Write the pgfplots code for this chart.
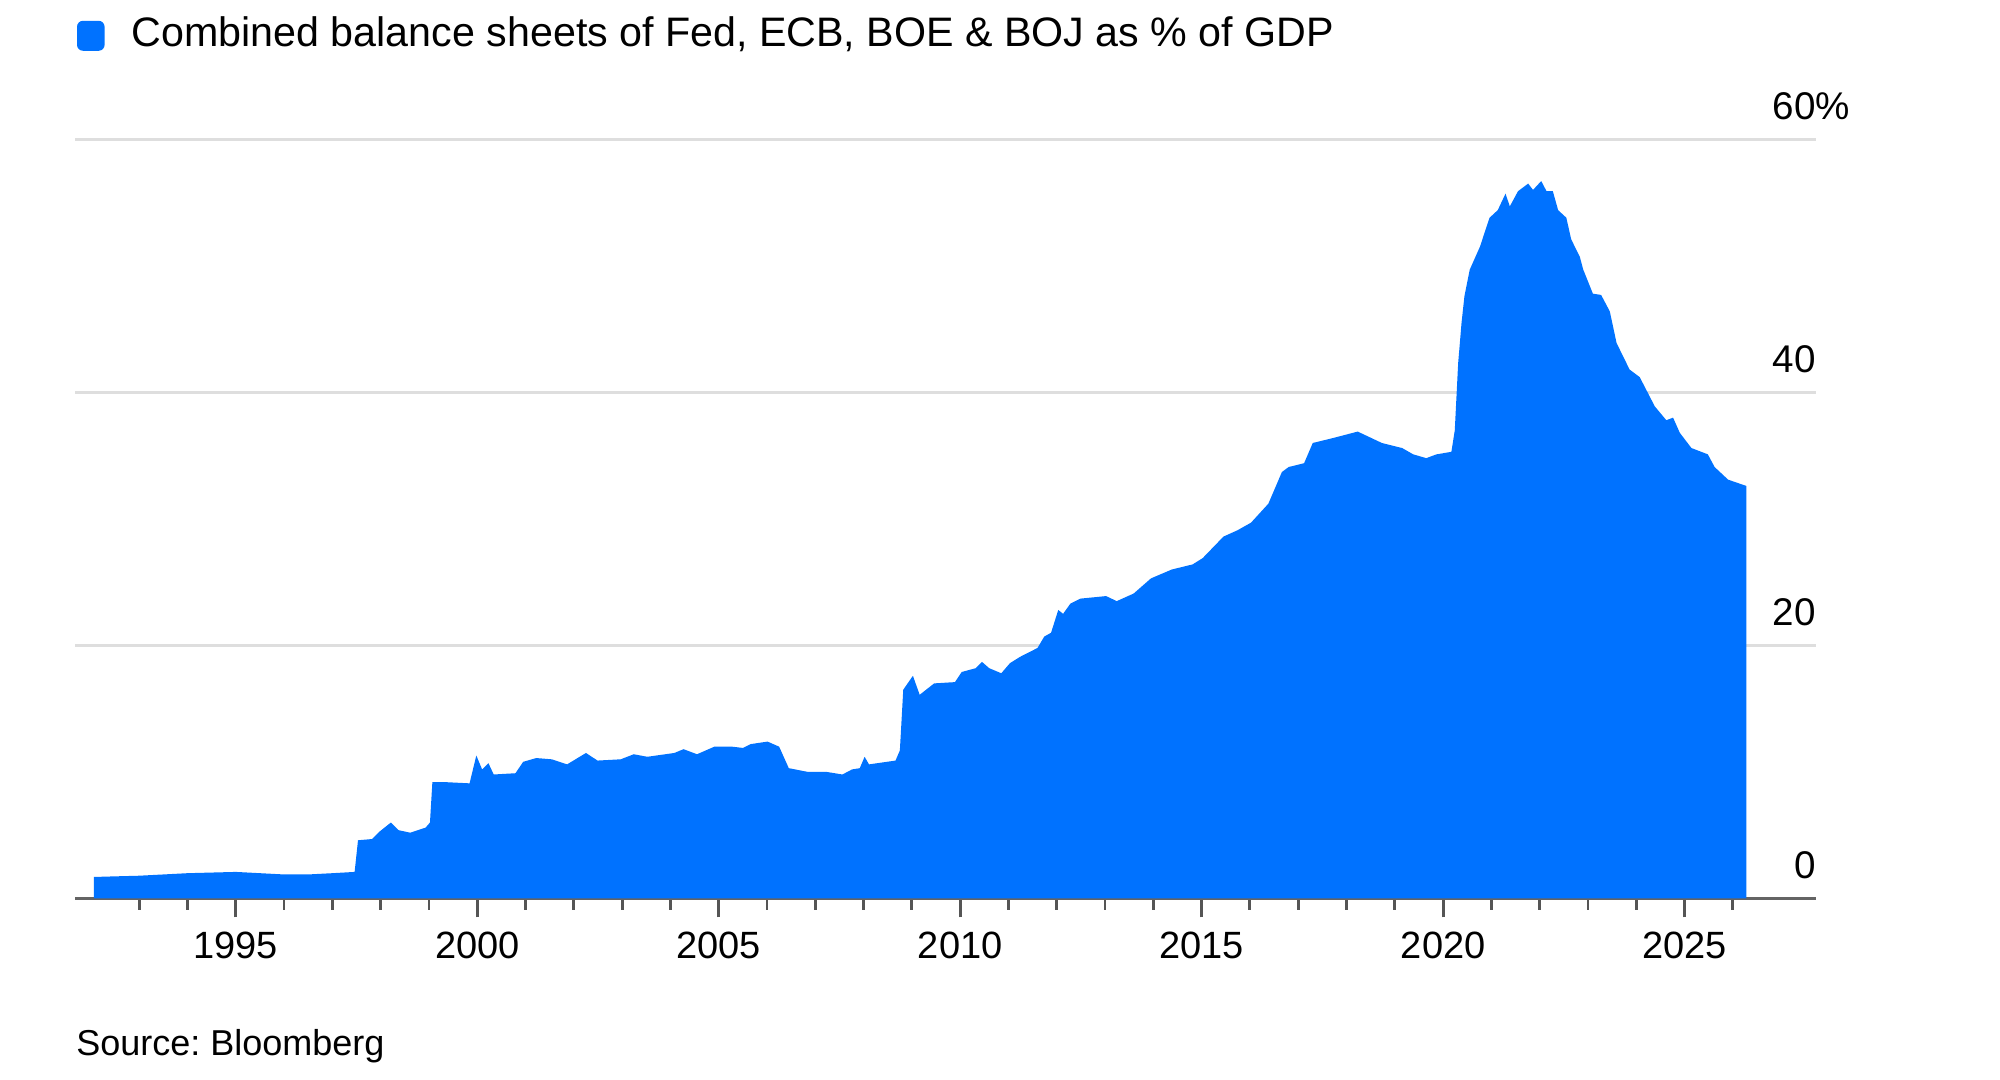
\documentclass[border=0pt]{standalone}
\usepackage{fontspec}
\setmainfont{Liberation Sans}
\usepackage{pgfplots}
\pgfplotsset{compat=1.18}
\usepackage{pgfplotstable}
\definecolor{bblue}{RGB}{0,114,255}
\definecolor{gridgray}{RGB}{222,222,222}
\definecolor{axisgray}{RGB}{100,100,100}
\definecolor{tickgray}{RGB}{85,85,85}
\pgfplotstableread{
year value
1992.06 1.7
1992.5 1.75
1993.0 1.8
1993.5 1.9
1994.0 2.0
1994.5 2.05
1995.0 2.1
1995.5 2.0
1996.0 1.9
1996.5 1.9
1997.0 2.0
1997.46 2.1
1997.53 4.6
1997.82 4.7
1997.98 5.3
1998.21 6.0
1998.37 5.4
1998.61 5.2
1998.93 5.6
1999.02 6.0
1999.07 9.2
1999.32 9.2
1999.84 9.1
1999.98 11.3
2000.10 10.2
2000.23 10.7
2000.34 9.8
2000.79 9.9
2000.95 10.8
2001.22 11.1
2001.54 11.0
2001.86 10.6
2002.25 11.5
2002.49 10.9
2002.97 11.0
2003.24 11.4
2003.52 11.2
2004.08 11.5
2004.27 11.8
2004.55 11.4
2004.91 12.0
2005.27 12.0
2005.50 11.9
2005.66 12.2
2006.01 12.4
2006.25 12.0
2006.45 10.3
2006.85 10.0
2007.24 10.0
2007.56 9.8
2007.76 10.2
2007.92 10.3
2008.02 11.2
2008.11 10.6
2008.66 10.9
2008.75 11.7
2008.82 16.5
2009.02 17.6
2009.16 16.1
2009.46 17.0
2009.89 17.1
2010.03 17.9
2010.32 18.2
2010.45 18.7
2010.60 18.2
2010.85 17.8
2011.03 18.6
2011.24 19.1
2011.60 19.8
2011.74 20.7
2011.88 21.0
2012.03 22.8
2012.13 22.5
2012.28 23.3
2012.49 23.7
2013.02 23.9
2013.24 23.5
2013.59 24.1
2013.95 25.3
2014.38 26.0
2014.81 26.4
2015.02 26.9
2015.45 28.6
2015.74 29.1
2016.02 29.7
2016.38 31.2
2016.66 33.7
2016.80 34.1
2017.12 34.4
2017.30 36.0
2017.73 36.4
2018.23 36.9
2018.73 36.0
2019.15 35.6
2019.38 35.1
2019.65 34.8
2019.86 35.1
2020.17 35.3
2020.24 37.0
2020.31 42.3
2020.38 45.5
2020.44 47.6
2020.55 49.7
2020.76 51.5
2020.96 53.8
2021.13 54.4
2021.29 55.7
2021.38 54.7
2021.55 55.9
2021.76 56.5
2021.86 56.0
2022.03 56.7
2022.14 55.9
2022.27 55.9
2022.38 54.4
2022.55 53.8
2022.65 52.1
2022.83 50.7
2022.90 49.7
2023.10 47.8
2023.27 47.7
2023.45 46.4
2023.59 43.9
2023.86 41.8
2024.07 41.2
2024.38 38.9
2024.62 37.8
2024.76 38.0
2024.90 36.8
2025.14 35.6
2025.48 35.1
2025.62 34.1
2025.90 33.1
2026.28 32.6
}\datatable
\begin{document}
\frenchspacing
\begin{tikzpicture}
\useasboundingbox (0,0) rectangle (1000pt,540pt);
\fill[bblue, rounded corners=3pt] (38.5pt,514.6pt) rectangle (52.3pt,529.6pt);
\node[anchor=base west, inner sep=0pt, font=\fontsize{20.6}{24}\selectfont] at (65.7pt,516.6pt) {Combined balance sheets of Fed, ECB, BOE \& BOJ as \% of GDP};
\node[anchor=base west, inner sep=0pt, font=\fontsize{18}{22}\selectfont] at (38pt,12pt) {Source: Bloomberg};
\begin{axis}[
  at={(37.5pt,90.75pt)}, anchor=south west,
  scale only axis, width=870.5pt, height=379.6pt,
  xmin=1991.67, xmax=2027.72, ymin=0, ymax=60,
  axis x line*=bottom, axis y line*=right,
  x axis line style={draw=axisgray, line width=1.5pt},
  y axis line style={draw=none},
  xtick={1995,2000,...,2025},
  minor xtick={1993,...,2026},
  ytick={0,20,40,60},
  yticklabels={0,20,40,60\rlap{\%}},
  ymajorgrids,
  grid style={draw=gridgray, line width=1.3pt},
  tick align=outside,
  major tick length=9.5pt, minor tick length=5.75pt,
  xtick style={draw=tickgray, line width=1.4pt},
  ytick style={draw=none},
  /pgf/number format/1000 sep={},
  /pgf/number format/assume math mode=true,
  xticklabel style={font=\fontsize{19}{22}\selectfont, anchor=base, inner sep=0pt, yshift=-20.5pt},
  yticklabel style={font=\fontsize{19.3}{22}\selectfont, anchor=base east, inner sep=0pt, xshift=-9.5pt, yshift=10pt},
]
\addplot[fill=bblue, draw=none] table[x=year, y=value] {\datatable} \closedcycle;
\end{axis}
\end{tikzpicture}
\end{document}
